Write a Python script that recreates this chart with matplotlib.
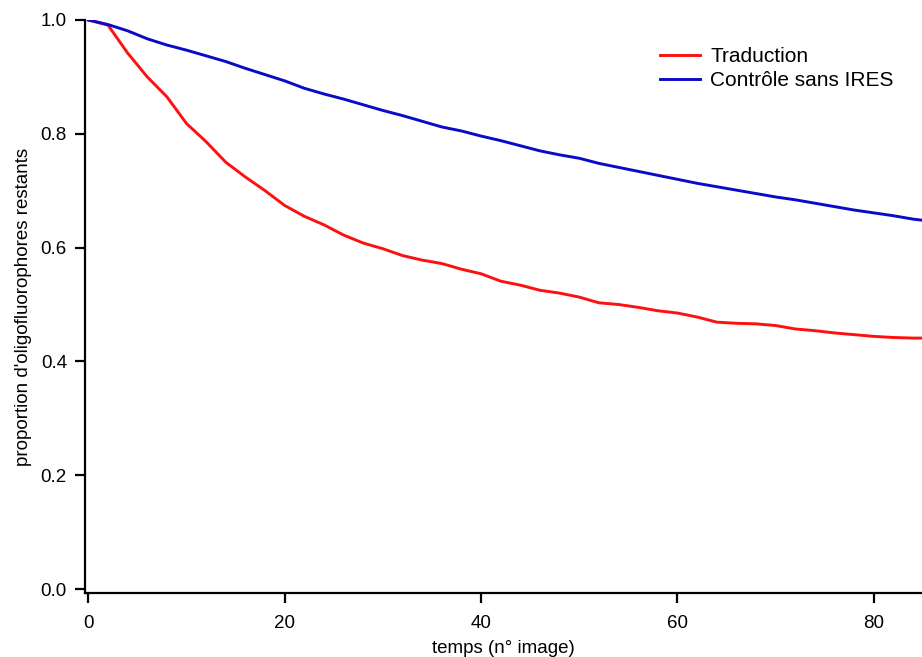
import numpy as np
import matplotlib.pyplot as plt

plt.rcParams['font.family'] = ['Liberation Sans', 'DejaVu Sans']

# temps (n° image)
frames = [0, 2, 4, 6, 8, 10, 12, 14, 16, 18, 20, 22, 24, 26, 28, 30, 32, 34, 36, 38,
          40, 42, 44, 46, 48, 50, 52, 54, 56, 58, 60, 62, 64, 66, 68, 70, 72, 74, 76,
          78, 80, 82, 84, 85]

traduction = [1.000, 0.991, 0.942, 0.900, 0.865, 0.818, 0.786, 0.750, 0.724, 0.700,
              0.674, 0.655, 0.640, 0.622, 0.608, 0.598, 0.586, 0.578, 0.572, 0.562,
              0.554, 0.541, 0.534, 0.525, 0.520, 0.513, 0.503, 0.500, 0.495, 0.489,
              0.485, 0.478, 0.469, 0.467, 0.466, 0.463, 0.457, 0.454, 0.450, 0.447,
              0.444, 0.442, 0.441, 0.441]

controle = [1.000, 0.992, 0.981, 0.967, 0.956, 0.947, 0.937, 0.927, 0.915, 0.904,
            0.893, 0.880, 0.870, 0.861, 0.851, 0.841, 0.832, 0.822, 0.812, 0.805,
            0.796, 0.788, 0.779, 0.770, 0.763, 0.757, 0.748, 0.741, 0.734, 0.727,
            0.720, 0.713, 0.707, 0.701, 0.695, 0.689, 0.684, 0.678, 0.672, 0.666,
            0.661, 0.656, 0.650, 0.648]

fig = plt.figure(figsize=(9.22, 6.57), dpi=100)
ax = fig.add_axes([85/922, 64/657, 1 - 85/922, (592 - 19)/657])

ax.plot(frames, traduction, color="#ff1010", lw=2.1, label="Traduction")
ax.plot(frames, controle, color="#0a0ac8", lw=2.1, label="Contrôle sans IRES")

ax.set_xlim(-0.34, 84.9)
ax.set_ylim(-0.007, 1.0)
ax.set_xticks([0, 20, 40, 60, 80])
ax.set_yticks([0.0, 0.2, 0.4, 0.6, 0.8, 1.0])
ax.set_yticklabels(["0.0", "0.2", "0.4", "0.6", "0.8", "1.0"])

for s in ["top", "right"]:
    ax.spines[s].set_visible(False)
for s in ["left", "bottom"]:
    ax.spines[s].set_linewidth(1.6)
ax.tick_params(axis="x", length=7, width=1.6, pad=8.5, labelsize=13.5)
ax.tick_params(axis="y", length=7, width=1.6, pad=6, labelsize=13.5)

ax.set_xlabel("temps (n° image)", fontsize=13.5, labelpad=6)
ax.set_ylabel("proportion d'oligofluorophores restants", fontsize=13.5, labelpad=6)

ax.legend(loc="upper left", bbox_to_anchor=(0.665, 0.985), frameon=False,
          fontsize=15, handlelength=1.9, handletextpad=0.5, labelspacing=0.22)

fig.savefig("out.png", dpi=100)
